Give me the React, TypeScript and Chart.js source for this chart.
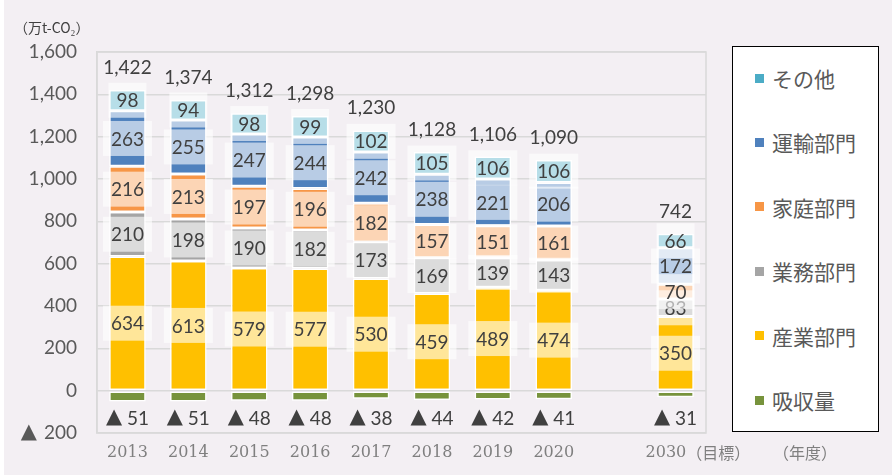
import React, { useEffect, useRef } from "react";
import { Chart, registerables } from "chart.js";
Chart.register(...registerables);

const categories = ["2013", "2014", "2015", "2016", "2017", "2018", "2019", "2020", "", "2030"];
const xTickLabels = ["2013", "2014", "2015", "2016", "2017", "2018", "2019", "2020", "", "2030（目標）"];
const absorption = [-51, -51, -48, -48, -38, -44, -42, -41, null, -31];
const industry = [634, 613, 579, 577, 530, 459, 489, 474, null, 350];
const business = [210, 198, 190, 182, 173, 169, 139, 143, null, 83];
const household = [216, 213, 197, 196, 182, 157, 151, 161, null, 70];
const transport = [263, 255, 247, 244, 242, 238, 221, 206, null, 172];
const other = [98, 94, 98, 99, 102, 105, 106, 106, null, 66];
const totals = [1422, 1374, 1312, 1298, 1230, 1128, 1106, 1090, null, 742];

const seriesNames = ["吸収量", "産業部門", "業務部門", "家庭部門", "運輸部門", "その他"];
const seriesData = [absorption, industry, business, household, transport, other];
const seriesColors = ["#77933c", "#ffc000", "#a5a5a5", "#f79646", "#4f81bd", "#4bacc6"];
const unitLabel = "（万t-CO₂）";
const yearAxisLabel = "（年度）";
const negativeMark = "▲";

const SERIF = "16px 'DejaVu Serif'";
const CJK = "16px 'Noto Sans CJK JP'";

const labelPlugin = {
  id: "labelPlugin",
  beforeDatasetsDraw(chart: any) {
    const { ctx, chartArea: a } = chart;
    ctx.save();
    ctx.strokeStyle = "#d9d9d9";
    ctx.lineWidth = 1.5;
    ctx.strokeRect(a.left, a.top, a.right - a.left, a.bottom - a.top);
    ctx.restore();
  },
  afterDraw(chart: any) {
    const ctx = chart.ctx;
    const yS = chart.scales.y;
    ctx.save();
    ctx.textBaseline = "middle";
    ctx.textAlign = "right";
    yS.ticks.forEach((t: any) => {
      if (t.value >= 0) return;
      const py = yS.getPixelForValue(t.value);
      ctx.font = "19px Lato";
      const w = ctx.measureText(String(-t.value)).width;
      ctx.font = "21px 'DejaVu Sans'";
      ctx.fillStyle = "#595959";
      ctx.fillText(negativeMark, chart.chartArea.left - 20 - w - 7, py);
    });
    ctx.restore();
  },
  afterDatasetsDraw(chart: any) {
    const ctx = chart.ctx;
    const yS = chart.scales.y;
    const xS = chart.scales.x;
    ctx.save();
    ctx.textBaseline = "middle";
    ctx.textAlign = "center";
    chart.data.datasets.forEach((ds: any, di: number) => {
      const meta = chart.getDatasetMeta(di);
      meta.data.forEach((el: any, i: number) => {
        const v = ds.data[i];
        if (v == null) return;
        const { x, y, base } = el.getProps(["x", "y", "base"], true);
        if (v < 0) {
          const ly = yS.getPixelForValue(0) + 27;
          const num = " " + String(-v);
          ctx.font = "21px 'DejaVu Sans'";
          const tw = ctx.measureText(negativeMark).width;
          ctx.font = "19px Lato";
          const nw = ctx.measureText(num).width;
          const startX = x - (tw + nw) / 2;
          ctx.textAlign = "left";
          ctx.fillStyle = "#404040";
          ctx.font = "21px 'DejaVu Sans'";
          ctx.fillText(negativeMark, startX, ly);
          ctx.font = "19px Lato";
          ctx.fillText(num, startX + tw, ly + 1);
          ctx.textAlign = "center";
          return;
        }
        const cy = (y + base) / 2;
        const txt = String(v);
        ctx.font = "19px Lato";
        const w = ctx.measureText(txt).width + 16;
        const h = 35;
        ctx.fillStyle = "rgba(255,255,255,0.6)";
        ctx.fillRect(x - w / 2, cy - h / 2, w, h);
        ctx.fillStyle = "#404040";
        ctx.fillText(txt, x, cy + 1);
      });
    });
    ctx.font = "19px Lato";
    ctx.fillStyle = "#404040";
    totals.forEach((t, i) => {
      if (t == null) return;
      const x = xS.getPixelForValue(i);
      const top = yS.getPixelForValue(t);
      ctx.fillText(t.toLocaleString("en-US"), x, top - 22);
    });
    ctx.fillStyle = "#7f7f7f";
    const ly = chart.chartArea.bottom + 20;
    xTickLabels.forEach((lab, i) => {
      if (!lab) return;
      const x = xS.getPixelForValue(i);
      const k = lab.indexOf("（");
      if (k >= 0) {
        const head = lab.slice(0, k);
        const tail = lab.slice(k);
        ctx.textAlign = "left";
        ctx.font = SERIF;
        const hw = ctx.measureText(head).width;
        const sx = x - 30;
        ctx.fillText(head, sx, ly);
        ctx.font = CJK;
        ctx.fillText(tail, sx + hw, ly);
        ctx.textAlign = "center";
      } else {
        ctx.font = SERIF;
        ctx.fillText(lab, x, ly);
      }
    });
    ctx.textAlign = "left";
    ctx.font = CJK;
    ctx.fillText(yearAxisLabel, chart.chartArea.right + 67, ly);
    ctx.restore();
  },
};

export default function App() {
  const ref = useRef<HTMLCanvasElement>(null);
  useEffect(() => {
    document.body.style.margin = "0";
    const chart = new Chart(ref.current!, {
      type: "bar",
      data: {
        labels: categories,
        datasets: seriesNames.map((n, i) => ({
          label: n,
          data: seriesData[i] as any,
          backgroundColor: seriesColors[i],
          borderColor: "#ffffff",
          borderWidth: 1.5,
          borderSkipped: false,
          categoryPercentage: 1,
          barPercentage: 0.6,
        })),
      },
      options: {
        animation: false,
        responsive: false,
        devicePixelRatio: 1,
        layout: { padding: { top: 52, right: 186, left: 0, bottom: 0 } },
        plugins: { legend: { display: false }, tooltip: { enabled: false } },
        scales: {
          x: {
            stacked: true,
            grid: { display: false },
            border: { display: false },
            ticks: { display: false },
            afterFit: (s: any) => {
              s.height = 42;
            },
          },
          y: {
            stacked: true,
            min: -200,
            max: 1600,
            ticks: {
              stepSize: 200,
              padding: 20,
              color: "#595959",
              font: { family: "Lato", size: 19 },
              callback: (v: any) => (v < 0 ? String(-v) : Number(v).toLocaleString("en-US")),
            },
            grid: { color: "#d9d9d9", lineWidth: 1.5, drawTicks: false },
            border: { display: true, color: "#d9d9d9", width: 1.5 },
            afterFit: (s: any) => {
              s.width = 97;
            },
          },
        },
      },
      plugins: [labelPlugin],
    });
    return () => chart.destroy();
  }, []);

  const legendItems = seriesNames.map((n, i) => ({ n, c: seriesColors[i] })).reverse();

  return (
    <div style={{ position: "relative", width: 892, height: 475, background: "#f3eff3", overflow: "hidden" }}>
      <div style={{ position: "absolute", left: 0, top: 0, width: 4, height: 475, background: "#ffffff" }} />
      <canvas ref={ref} width={892} height={475} style={{ position: "absolute", left: 0, top: 0 }} />
      <div
        style={{
          position: "absolute",
          left: 14,
          top: 17,
          fontFamily: "'Noto Sans CJK JP'",
          fontSize: 14,
          color: "#404040",
          lineHeight: "20px",
          whiteSpace: "nowrap",
        }}
      >
        {unitLabel}
      </div>
      <div
        style={{
          position: "absolute",
          left: 732,
          top: 46,
          width: 147,
          height: 386,
          boxSizing: "border-box",
          border: "1.5px solid #000",
          background: "#ffffff",
        }}
      >
        {legendItems.map((it, i) => (
          <div
            key={it.n}
            style={{
              position: "absolute",
              left: 22,
              top: 31 + i * 64.4 - 15,
              height: 30,
              display: "flex",
              alignItems: "center",
              whiteSpace: "nowrap",
            }}
          >
            <span style={{ display: "inline-block", width: 9, height: 9, background: it.c, marginRight: 8 }} />
            <span style={{ fontFamily: "'Noto Sans CJK JP'", fontSize: 21, color: "#595959", lineHeight: "30px" }}>
              {it.n}
            </span>
          </div>
        ))}
      </div>
    </div>
  );
}
